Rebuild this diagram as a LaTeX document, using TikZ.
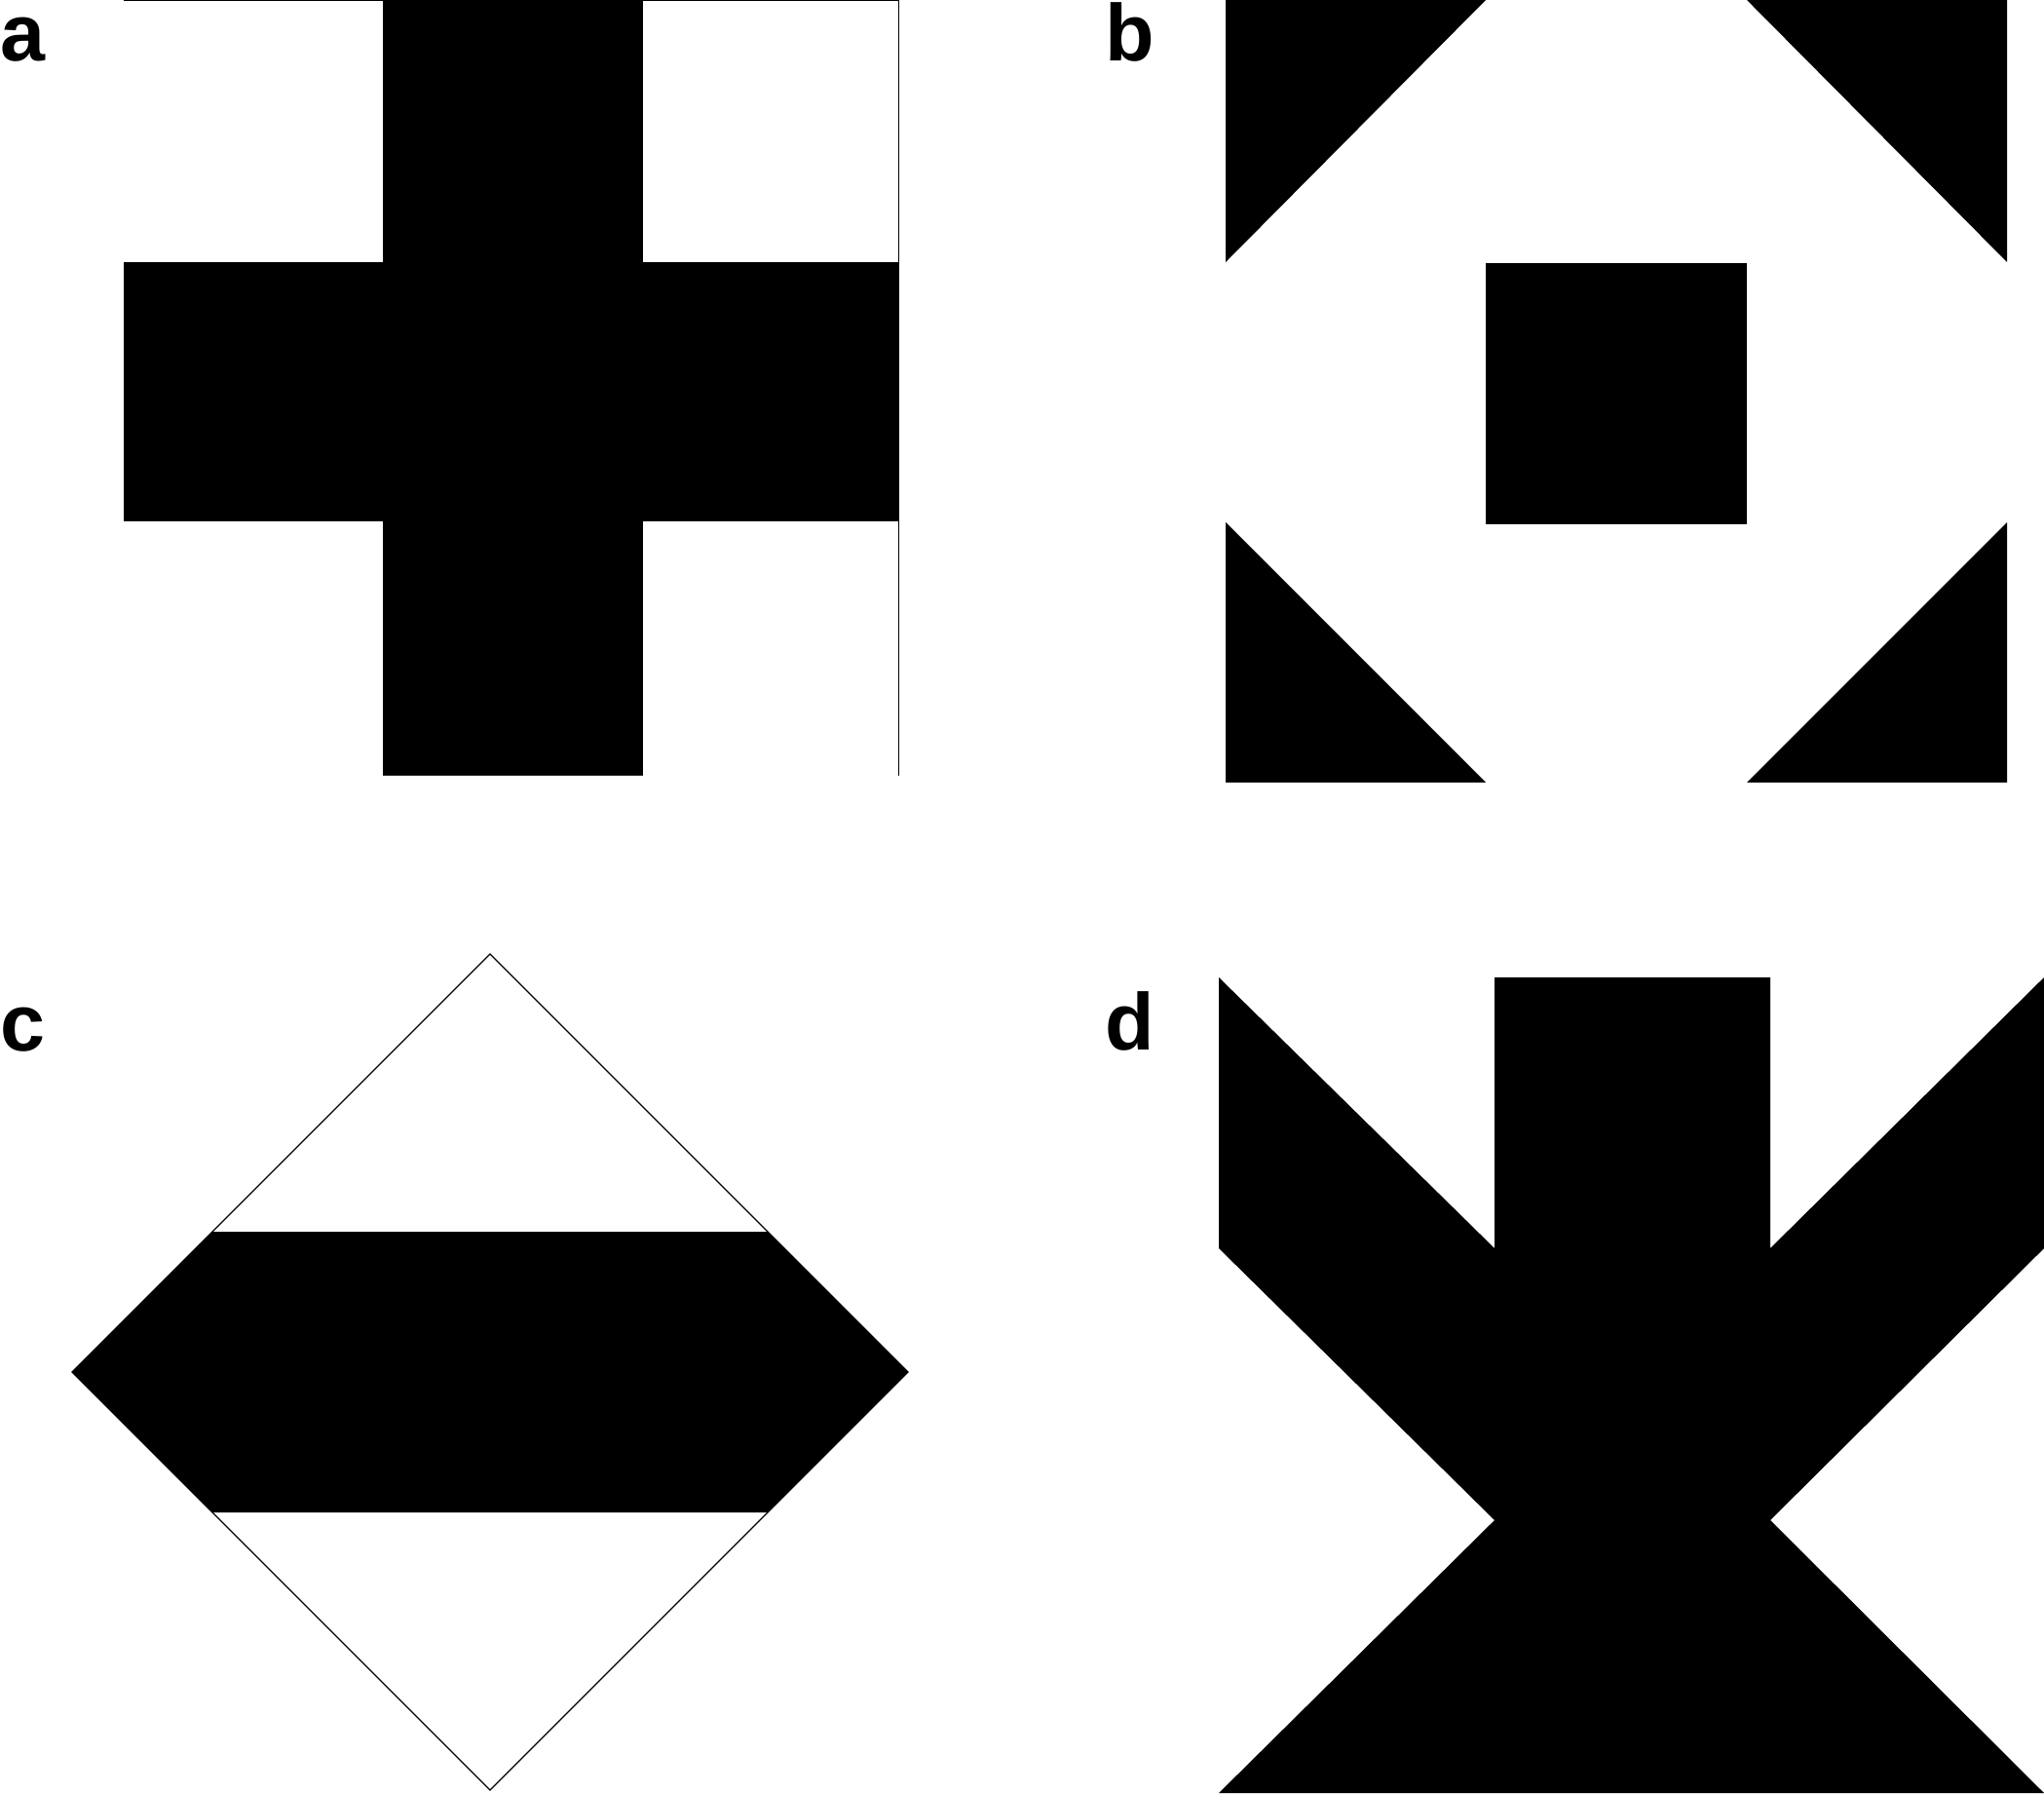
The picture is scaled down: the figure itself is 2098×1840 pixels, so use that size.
\documentclass[tikz,border=0pt]{standalone}
\usepackage{fontspec}
\setmainfont{Liberation Sans}
\begin{document}
\begin{tikzpicture}[x=0.01cm,y=-0.01cm,
  lbl/.style={anchor=base west,inner sep=0pt,font=\fontsize{23.5}{28}\selectfont\bfseries},
  solid/.style={fill=black,draw=none},
  thinline/.style={draw=black,line width=0.5pt}]
\useasboundingbox (0,0) rectangle (2098,1840);
% labels
\node[lbl] (la) at (0,63) {a};
\node[lbl] (lb) at (1134,63) {b};
\node[lbl] (lc) at (0,1078) {c};
\node[lbl] (ld) at (1134,1077) {d};
% panel a: cross
\draw[thinline] (127,0.5) -- (922.5,0.5) -- (922.5,796);
\fill[solid] (393,0) rectangle (660,796);
\fill[solid] (127,269) rectangle (923,535);
% panel b
\fill[solid] (1258,0) -- (1525,0) -- (1258,269) -- cycle;
\fill[solid] (1793,0) -- (2060,0) -- (2060,269) -- cycle;
\fill[solid] (1525,270) rectangle (1793,538);
\fill[solid] (1258,536) -- (1258,803) -- (1525,803) -- cycle;
\fill[solid] (2060,536) -- (2060,803) -- (1793,803) -- cycle;
% panel c
\draw[line width=0.35pt] (503,979) -- (932,1408) -- (503,1837) -- (74,1408) -- cycle;
\fill[solid] (218,1264) -- (788,1264) -- (932,1408) -- (788,1552) -- (218,1552) -- (74,1408) -- cycle;
% panel d
\fill[solid] (1251,1003) -- (1534,1281) -- (1534,1003) -- (1817,1003) -- (1817,1281)
  -- (2098,1003) -- (2098,1281) -- (1817,1560) -- (2098,1840) -- (1251,1840)
  -- (1534,1560) -- (1251,1281) -- cycle;
\end{tikzpicture}
\end{document}
